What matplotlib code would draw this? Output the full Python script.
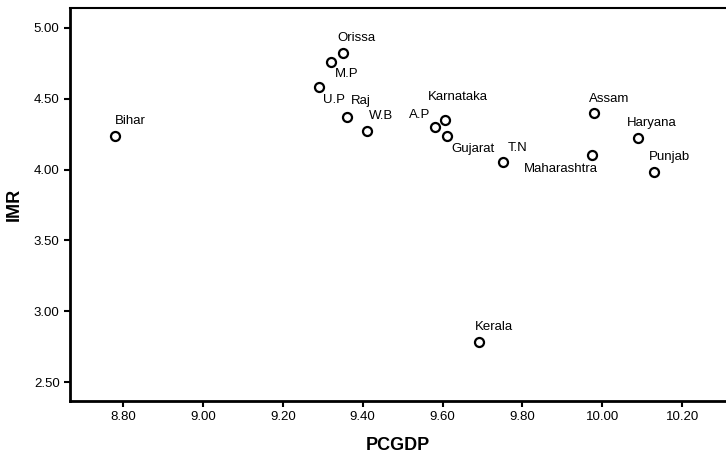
import matplotlib
matplotlib.use('Agg')
import matplotlib.pyplot as plt
import numpy as np

plt.rcParams['font.family'] = ['Liberation Sans', 'DejaVu Sans']

states = ['Bihar', 'Orissa', 'M.P', 'U.P', 'Raj', 'W.B', 'A.P', 'Karnataka',
          'Gujarat', 'T.N', 'Maharashtra', 'Assam', 'Haryana', 'Punjab', 'Kerala']
pcgdp = [8.78, 9.35, 9.32, 9.29, 9.36, 9.41, 9.58, 9.605, 9.61, 9.75, 9.975, 9.98, 10.09, 10.13, 9.69]
imr = [4.24, 4.82, 4.76, 4.58, 4.37, 4.27, 4.30, 4.35, 4.24, 4.05, 4.10, 4.40, 4.22, 3.98, 2.78]

# label offsets in pixels (dx, dy, ha)
offsets = {
    'Bihar': (0, 15, 'left'), 'Orissa': (-5, 15, 'left'), 'M.P': (4, -12, 'left'),
    'U.P': (4, -13, 'left'), 'Raj': (4, 16, 'left'), 'W.B': (2, 15, 'left'),
    'A.P': (-4, 12, 'right'), 'Karnataka': (-17, 23, 'left'), 'Gujarat': (5, -13, 'left'),
    'T.N': (5, 14, 'left'), 'Maharashtra': (5, -14, 'right'), 'Assam': (-5, 14, 'left'),
    'Haryana': (-11, 15, 'left'), 'Punjab': (-5, 15, 'left'), 'Kerala': (-4, 15, 'left'),
}

fig = plt.figure(figsize=(7.26, 4.62), dpi=100)
ax = fig.add_axes([0.0964, 0.132, 0.9026, 0.8507])

ax.plot(pcgdp, imr, 'o', ms=6.5, mfc='white', mec='black', mew=1.6, ls='none')

for name, x, y in zip(states, pcgdp, imr):
    dx, dy, ha = offsets[name]
    ax.annotate(name, (x, y), xytext=(dx * 0.72, dy * 0.72), textcoords='offset points',
                ha=ha, va='center', fontsize=9.5)

ax.set_xlim(8.6675, 10.3075)
ax.set_ylim(2.366, 5.14)
ax.set_xticks([8.8, 9.0, 9.2, 9.4, 9.6, 9.8, 10.0, 10.2])
ax.set_yticks([2.5, 3.0, 3.5, 4.0, 4.5, 5.0])
ax.xaxis.set_major_formatter(matplotlib.ticker.FormatStrFormatter('%.2f'))
ax.yaxis.set_major_formatter(matplotlib.ticker.FormatStrFormatter('%.2f'))
ax.tick_params(direction='out', length=4, width=1.5, labelsize=9.5)

for s in ['left', 'bottom']:
    ax.spines[s].set_linewidth(2)
ax.spines['top'].set_linewidth(1.5)
ax.spines['right'].set_visible(False)

ax.set_xlabel('PCGDP', fontsize=13, fontweight='bold', labelpad=10)
ax.set_ylabel('IMR', fontsize=13, fontweight='bold', labelpad=8)

fig.savefig('out.png', dpi=100)
